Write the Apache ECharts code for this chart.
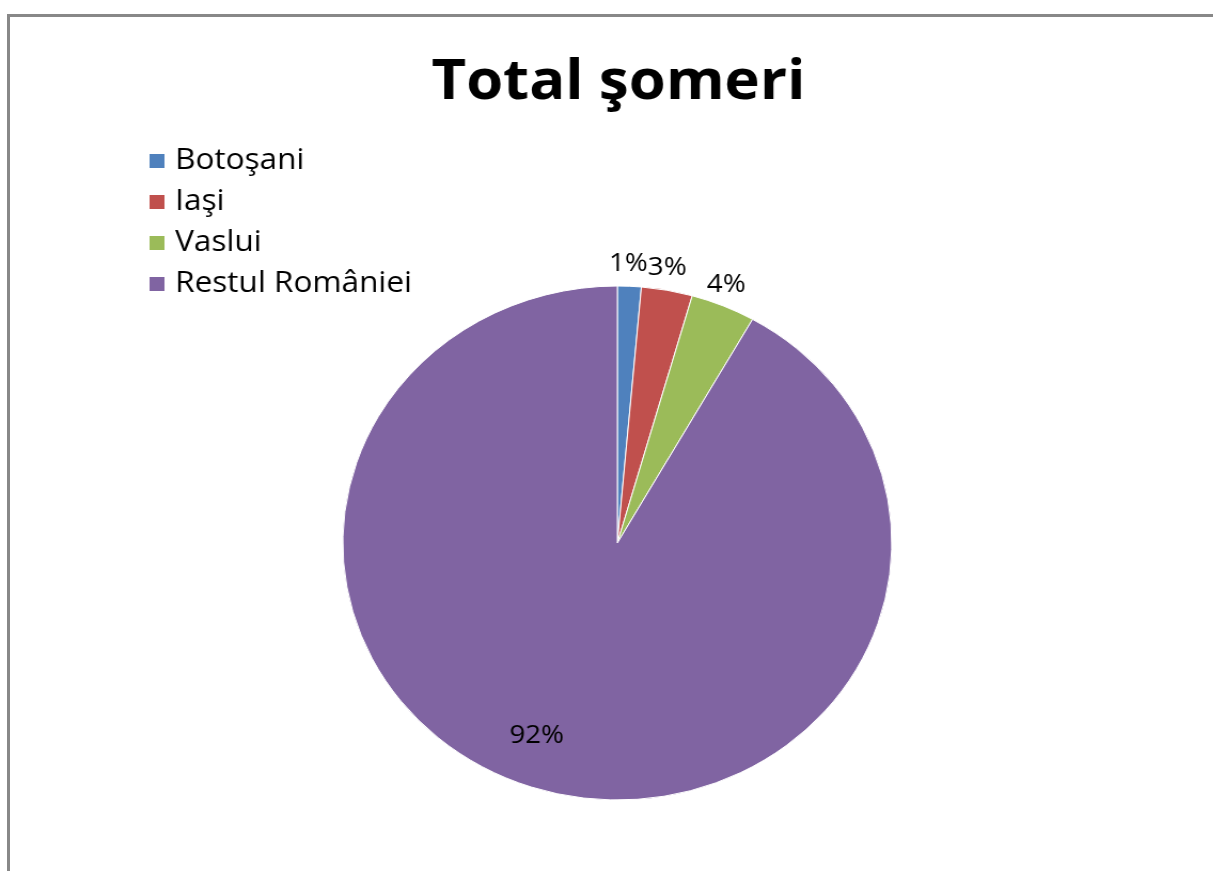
<!DOCTYPE html>
<html>
<head>
<meta charset="utf-8">
<script src="https://cdn.jsdelivr.net/npm/echarts@6/dist/echarts.min.js"></script>
<style>
    html, body { margin:0; padding:0; background:#fff; overflow:hidden; }
    /* 原图横向略拉伸，用 scaleX 还原 */
    #chart { position:absolute; left:0; top:0; width:1136px; height:871px;
             transform:scaleX(1.068); transform-origin:0 0; }
    #frame { position:absolute; left:7px; top:14px; width:1220px; height:880px;
             border-left:3px solid #888; border-top:3px solid #888; pointer-events:none; }
</style>
</head>
<body>
<div id="chart"></div>
<div id="frame"></div>
<script>
// 数据
var categories = ['Botoşani', 'Iaşi', 'Vaslui', 'Restul României'];
var shares = [1.4, 3.0, 3.8, 91.8];
var colors = ['#4f81bd', '#c0504d', '#9bbb59', '#8064a2'];

var pieData = categories.map(function (name, i) {
    var item = { name: name, value: shares[i] };
    if (i === categories.length - 1) {
        item.label = { position: 'inside' };
    }
    return item;
});

var chart_somaj = echarts.init(document.getElementById('chart'));
chart_somaj.setOption({
    color: colors,
    animation: false,
    title: {
        text: 'Total şomeri',
        left: 399,
        top: 50,
        textStyle: {
            fontFamily: 'Open Sans',
            fontWeight: 'bold',
            fontSize: 56,
            color: '#000'
        }
    },
    legend: {
        orient: 'vertical',
        left: 135,
        top: 141,
        itemWidth: 14,
        itemHeight: 14,
        itemGap: 11,
        icon: 'rect',
        itemStyle: { borderWidth: 0 },
        textStyle: {
            fontFamily: 'Open Sans',
            fontSize: 29.5,
            color: '#000',
            padding: [0, 0, 0, 5]
        },
        data: categories
    },
    series: [
        {
            type: 'pie',
            center: [578, 543],
            radius: 257,
            startAngle: 90,
            clockwise: true,
            avoidLabelOverlap: false,
            itemStyle: { borderColor: '#fff', borderWidth: 1 },
            label: {
                show: true,
                position: 'outside',
                formatter: function (p) { return Math.round(p.percent) + '%'; },
                fontFamily: 'Open Sans',
                fontSize: 26,
                color: '#000'
            },
            labelLine: { show: false, length: 23, length2: 0 },
            labelLayout: function (p) {
                if (p.dataIndex === 3) {
                    return { dx: -42, dy: 65 };
                }
                return { align: 'center', verticalAlign: 'middle', dx: -7 - 2 * p.dataIndex };
            },
            data: pieData
        }
    ]
});
</script>
</body>
</html>
